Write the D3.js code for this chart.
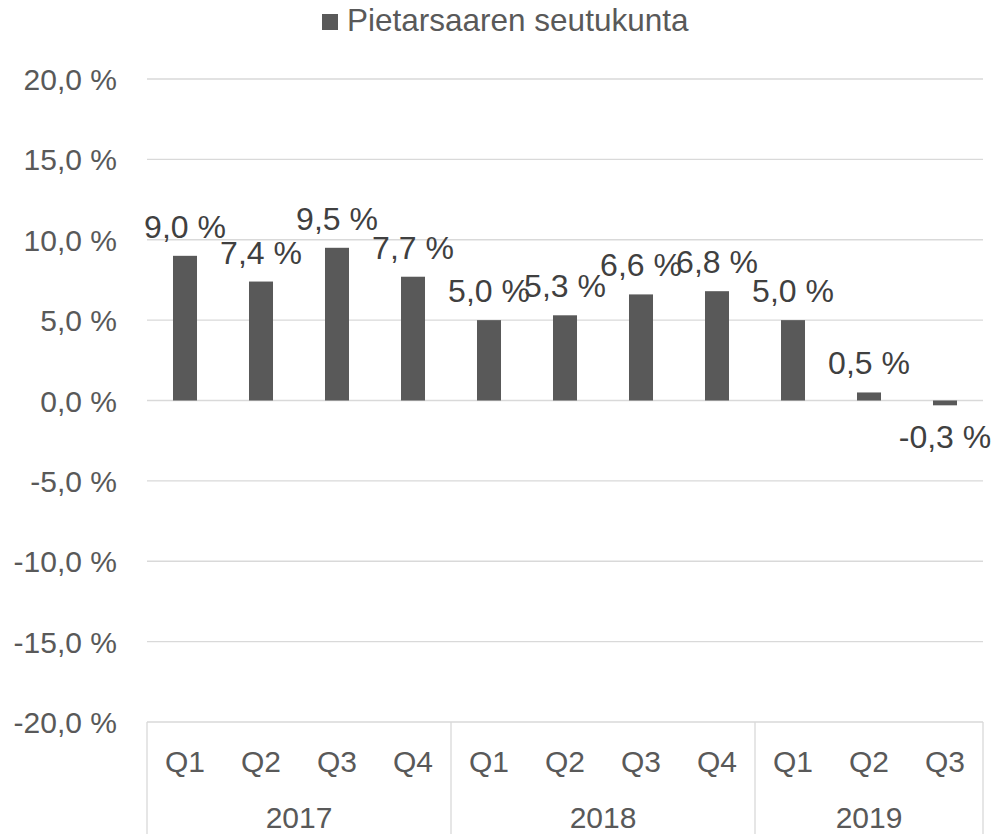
<!DOCTYPE html>
<html><head><meta charset="utf-8">
<script src="https://cdn.jsdelivr.net/npm/d3@7"></script>
<style>body{margin:0;background:#fff}svg{display:block}text{font-family:"Liberation Sans",Arial,sans-serif}</style>
</head><body><svg id="c" width="994" height="834"></svg>
<script>
const quarters = ["Q1","Q2","Q3","Q4","Q1","Q2","Q3","Q4","Q1","Q2","Q3"];
const years = ["2017","2018","2019"];
const yearSpans = [4,4,3];
const values = [9.0,7.4,9.5,7.7,5.0,5.3,6.6,6.8,5.0,0.5,-0.3];
const yTicks = [20,15,10,5,0,-5,-10,-15,-20];
const seriesName = "Pietarsaaren seutukunta";

const svg = d3.select("#c");
const L=147, R=983, T=79, B=722, BOT=834;
const fmt = v => d3.format(".1f")(v).replace(".",",").replace("−","-") + " %";
const x = d3.scaleBand().domain(d3.range(values.length)).range([L,R]).paddingInner(0.684).paddingOuter(0.342);
const y = d3.scaleLinear().domain([-20,20]).range([B,T]);

// gridlines
svg.append("g").selectAll("line").data(yTicks).join("line")
  .attr("x1",L).attr("x2",R).attr("y1",d=>y(d)).attr("y2",d=>y(d))
  .attr("stroke","#d9d9d9").attr("stroke-width",1.3);

// y labels
svg.append("g").selectAll("text").data(yTicks).join("text")
  .attr("x",117).attr("y",d=>y(d)+11).attr("text-anchor","end")
  .attr("font-size",30).attr("fill","#595959").text(d=>fmt(d));

// bars
svg.append("g").selectAll("rect").data(values).join("rect")
  .attr("x",(d,i)=>x(i)).attr("width",x.bandwidth())
  .attr("y",d=>y(Math.max(0,d))).attr("height",d=>Math.abs(y(d)-y(0)))
  .attr("fill","#595959");

// data labels
svg.append("g").selectAll("text").data(values).join("text")
  .attr("x",(d,i)=>x(i)+x.bandwidth()/2)
  .attr("y",d=> d>=0 ? y(d)-18 : y(d)+43)
  .attr("text-anchor","middle").attr("font-size",32).attr("fill","#404040")
  .text(d=>fmt(d));

// category axis
svg.append("g").selectAll("text").data(quarters).join("text")
  .attr("x",(d,i)=>x(i)+x.bandwidth()/2).attr("y",772)
  .attr("text-anchor","middle").attr("font-size",30).attr("fill","#595959").text(d=>d);

let starts=[0]; yearSpans.forEach((s,i)=>starts.push(starts[i]+s));
const bx = i => L + (R-L)*starts[i]/values.length;
svg.append("g").selectAll("line").data(starts).join("line")
  .attr("x1",(d,i)=>bx(i)).attr("x2",(d,i)=>bx(i)).attr("y1",B).attr("y2",BOT)
  .attr("stroke","#d9d9d9").attr("stroke-width",1.3);
svg.append("g").selectAll("text").data(years).join("text")
  .attr("x",(d,i)=>(bx(i)+bx(i+1))/2).attr("y",828)
  .attr("text-anchor","middle").attr("font-size",30).attr("fill","#595959").text(d=>d);

// legend
const lg = svg.append("g");
lg.append("rect").attr("x",322).attr("y",14).attr("width",16).attr("height",16).attr("fill","#595959");
lg.append("text").attr("x",347).attr("y",31).attr("font-size",31.5).attr("fill","#595959").text(seriesName);
</script></body></html>
